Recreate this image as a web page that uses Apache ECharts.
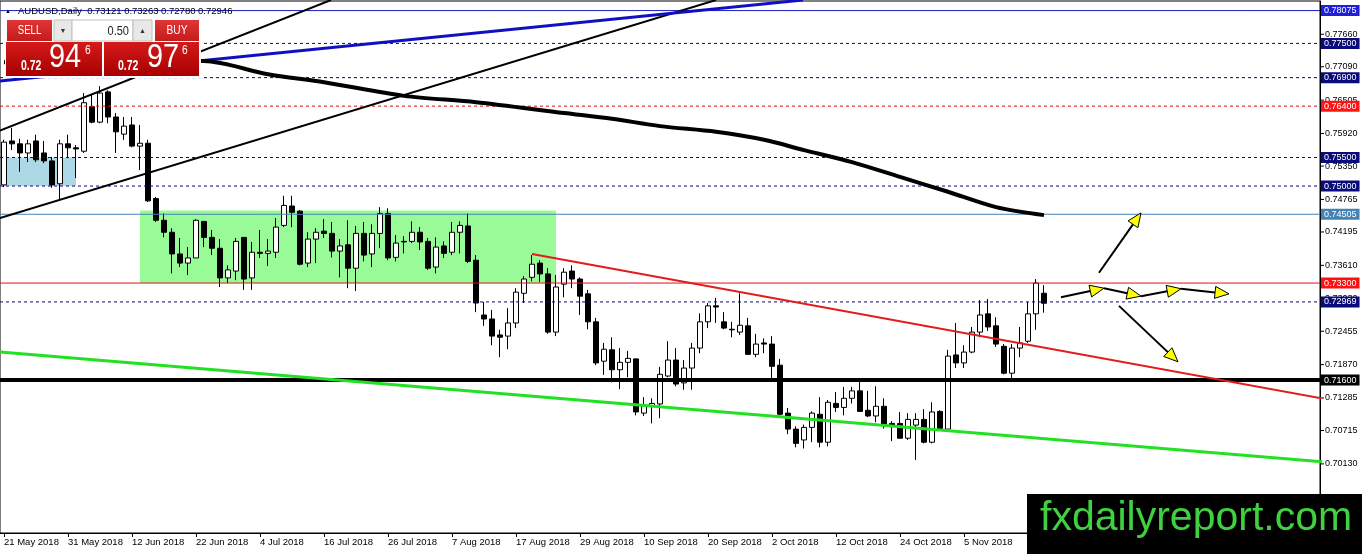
<!DOCTYPE html>
<html><head><meta charset="utf-8">
<script src="https://cdn.jsdelivr.net/npm/echarts@6/dist/echarts.min.js"></script>
<style>html,body{margin:0;padding:0;background:#fff}#c{width:1362px;height:554px}</style>
</head><body><div id="c"></div><script>
// ---------- data ----------
const tickLabels = ['21 May 2018','31 May 2018','12 Jun 2018','22 Jun 2018','4 Jul 2018','16 Jul 2018','26 Jul 2018','7 Aug 2018','17 Aug 2018','29 Aug 2018','10 Sep 2018','20 Sep 2018','2 Oct 2018','12 Oct 2018','24 Oct 2018','5 Nov 2018'];
const slotCount = 165;
// [open, close, low, high]
const candles = [
[0.7502,0.7577,0.7498,0.7581],[0.7579,0.7574,0.7563,0.7602],[0.7574,0.7558,0.7525,0.7583],[0.7558,0.7574,0.7542,0.7581],
[0.7579,0.7546,0.7542,0.7590],[0.7558,0.7544,0.7540,0.7579],[0.7544,0.7502,0.7497,0.7551],[0.7504,0.7574,0.7476,0.7581],
[0.7574,0.7567,0.7549,0.7590],[0.7567,0.7565,0.7514,0.7572],[0.7561,0.7646,0.7558,0.7663],[0.7639,0.7612,0.7610,0.7660],
[0.7612,0.7663,0.7610,0.7675],[0.7665,0.7621,0.7610,0.7668],[0.7621,0.7595,0.7558,0.7628],[0.7591,0.7605,0.7581,0.7621],
[0.7607,0.7570,0.7568,0.7621],[0.7570,0.7575,0.7528,0.7607],[0.7575,0.7474,0.7472,0.7581],[0.7478,0.7440,0.7437,0.7481],
[0.7440,0.7419,0.7410,0.7452],[0.7419,0.7381,0.7347,0.7426],[0.7381,0.7365,0.7358,0.7409],[0.7365,0.7374,0.7344,0.7393],
[0.7374,0.7440,0.7374,0.7442],[0.7438,0.7410,0.7393,0.7438],[0.7410,0.7391,0.7379,0.7423],[0.7391,0.7339,0.7323,0.7407],
[0.7339,0.7353,0.7330,0.7361],[0.7351,0.7403,0.7335,0.7409],[0.7410,0.7337,0.7318,0.7410],[0.7339,0.7384,0.7318,0.7402],
[0.7384,0.7382,0.7374,0.7423],[0.7382,0.7386,0.7360,0.7407],[0.7384,0.7428,0.7374,0.7444],[0.7431,0.7466,0.7428,0.7483],
[0.7465,0.7454,0.7428,0.7483],[0.7456,0.7363,0.7361,0.7458],[0.7365,0.7407,0.7358,0.7419],[0.7407,0.7419,0.7365,0.7426],
[0.7421,0.7417,0.7409,0.7442],[0.7417,0.7386,0.7375,0.7437],[0.7386,0.7395,0.7340,0.7407],[0.7397,0.7356,0.7321,0.7440],
[0.7356,0.7417,0.7316,0.7430],[0.7417,0.7379,0.7368,0.7437],[0.7381,0.7417,0.7358,0.7433],[0.7417,0.7452,0.7391,0.7463],
[0.7452,0.7374,0.7370,0.7461],[0.7375,0.7400,0.7368,0.7414],[0.7403,0.7402,0.7382,0.7412],[0.7403,0.7419,0.7400,0.7438],
[0.7419,0.7402,0.7388,0.7428],[0.7403,0.7356,0.7353,0.7409],[0.7358,0.7393,0.7347,0.7410],[0.7395,0.7382,0.7374,0.7403],
[0.7384,0.7419,0.7379,0.7437],[0.7419,0.7431,0.7382,0.7438],[0.7430,0.7368,0.7365,0.7452],[0.7370,0.7295,0.7279,0.7379],
[0.7274,0.7267,0.7255,0.7297],[0.7267,0.7237,0.7221,0.7283],[0.7239,0.7235,0.7200,0.7248],[0.7237,0.7260,0.7214,0.7286],
[0.7260,0.7314,0.7251,0.7321],[0.7312,0.7337,0.7295,0.7342],[0.7340,0.7363,0.7333,0.7379],[0.7365,0.7346,0.7332,0.7370],
[0.7346,0.7244,0.7241,0.7356],[0.7244,0.7323,0.7237,0.7344],[0.7328,0.7349,0.7305,0.7356],[0.7351,0.7337,0.7321,0.7361],
[0.7337,0.7307,0.7274,0.7340],[0.7311,0.7262,0.7249,0.7318],[0.7262,0.7190,0.7186,0.7269],[0.7193,0.7214,0.7169,0.7225],
[0.7213,0.7178,0.7156,0.7235],[0.7178,0.7191,0.7144,0.7216],[0.7191,0.7198,0.7165,0.7211],[0.7197,0.7104,0.7098,0.7198],
[0.7102,0.7116,0.7097,0.7130],[0.7114,0.7119,0.7084,0.7128],[0.7118,0.7170,0.7093,0.7183],[0.7167,0.7195,0.7165,0.7228],
[0.7195,0.7153,0.7149,0.7216],[0.7155,0.7181,0.7143,0.7195],[0.7181,0.7216,0.7143,0.7225],[0.7216,0.7262,0.7207,0.7277],
[0.7262,0.7290,0.7251,0.7295],[0.7290,0.7288,0.7260,0.7304],[0.7262,0.7251,0.7249,0.7279],[0.7249,0.7248,0.7235,0.7262],
[0.7244,0.7256,0.7239,0.7312],[0.7255,0.7205,0.7204,0.7269],[0.7205,0.7223,0.7200,0.7241],[0.7225,0.7223,0.7207,0.7233],
[0.7223,0.7184,0.7160,0.7237],[0.7186,0.7100,0.7098,0.7197],[0.7102,0.7074,0.7065,0.7111],[0.7074,0.7049,0.7042,0.7079],
[0.7055,0.7077,0.7040,0.7082],[0.7077,0.7102,0.7051,0.7105],[0.7100,0.7051,0.7042,0.7130],[0.7051,0.7121,0.7044,0.7125],
[0.7119,0.7112,0.7104,0.7139],[0.7112,0.7128,0.7098,0.7148],[0.7128,0.7141,0.7119,0.7148],[0.7141,0.7105,0.7104,0.7162],
[0.7107,0.7097,0.7095,0.7141],[0.7097,0.7114,0.7086,0.7149],[0.7114,0.7082,0.7075,0.7128],[0.7084,0.7081,0.7053,0.7088],
[0.7084,0.7058,0.7058,0.7104],[0.7058,0.7091,0.7055,0.7102],[0.7081,0.7091,0.7020,0.7102],[0.7091,0.7051,0.7049,0.7109],
[0.7051,0.7104,0.7049,0.7121],[0.7105,0.7075,0.7072,0.7107],[0.7074,0.7202,0.7074,0.7213],[0.7204,0.7190,0.7181,0.7260],
[0.7190,0.7209,0.7181,0.7221],[0.7209,0.7244,0.7207,0.7253],[0.7244,0.7274,0.7235,0.7300],[0.7276,0.7253,0.7246,0.7302],
[0.7255,0.7223,0.7218,0.7270],[0.7219,0.7172,0.7170,0.7223],[0.7172,0.7216,0.7163,0.7223],[0.7216,0.7225,0.7200,0.7253],
[0.7228,0.7276,0.7225,0.7297],[0.7276,0.7330,0.7248,0.7337],[0.73121,0.72946,0.72780,0.73263]
];
const priceTicks = [0.77660,0.77090,0.76505,0.75920,0.75350,0.74765,0.74195,0.73610,0.73030,0.72455,0.71870,0.71285,0.70715,0.70130,0.69545];
const levelValues = [0.78075,0.77500,0.76900,0.76400,0.75500,0.75000,0.74505,0.73300,0.72969,0.71600];
const maPoints = [[0,0.7717],[12,0.7720],[25,0.7719],[33,0.7696],[40,0.7682],[50,0.7658],[59,0.7647],[70,0.7628],[76,0.7618],[82,0.7605],[89,0.7595],[95,0.7581],[100,0.7563],[106,0.7542],[112,0.7516],[118,0.7490],[124,0.7463],[130,0.7449]];
const upperChannel = [[-0.5,0.7597],[40.875,0.7826]];
const lowerChannel = [[-0.5,0.7444],[89,0.7826]];
const blueTrend = [[-0.5,0.7684],[99.875,0.7826]];
const redTrend = [[66,0.7381],[167,0.7122]];
const greenTrend = [[-0.5,0.7209],[167,0.7014]];
const blueZone = [[0,0.7550],[9,0.7500]];
const greenZone = [[17,0.7457],[69,0.7330]];
// arrows: [x1, y1, x2, y2]
const arrows = [
[136.875,0.7348,142.125,0.7453],
[132.125,0.7305,137.5,0.7321],[137.5,0.7321,142.125,0.7307],[142.125,0.7307,147.125,0.7320],[147.125,0.7320,153.125,0.7311],
[139.375,0.7290,146.75,0.7192]
];
const headerText = 'AUDUSD,Daily  0.73121 0.73263 0.72780 0.72946';

// ---------- styles ----------
const FONT = "'Liberation Sans', Arial, sans-serif";
const levelStyles = [
  {c:'#1c1cc4', bg:'#1f1fd8', w:1, t:'solid'},
  {c:'#0a0a7a', bg:'#0a0a7a', w:1, t:[3,3]},
  {c:'#0a0a7a', bg:'#0a0a7a', w:1, t:[3,3]},
  {c:'#e01010', bg:'#ff1414', w:1, t:[3,3]},
  {c:'#0a0a7a', bg:'#0a0a7a', w:1, t:[3,3]},
  {c:'#0a0a7a', bg:'#0a0a7a', w:1, t:[3,3]},
  {c:'#4682b4', bg:'#4682b4', w:1, t:'solid'},
  {c:'#e8101a', bg:'#ff1010', w:1, t:'solid'},
  {c:'#0a0a7a', bg:'#0a0a7a', w:1, t:[3,3]},
  {c:'#000000', bg:'#000000', w:4, t:'solid'}
];

const cats = [];
for (let i = 0; i < slotCount; i++) cats.push(i % 8 === 0 && i / 8 < tickLabels.length ? tickLabels[i / 8] : '');
const labelIdx = (i) => i % 8 === 0 && i / 8 < tickLabels.length;
const xMin = -0.5, xMax = slotCount - 0.5;

function trendSeries(data, color, width, z) {
  return {type:'line', xAxisIndex:1, yAxisIndex:0, data, showSymbol:false, symbol:'none', silent:true, z:z||5,
    lineStyle:{color, width}, clip:true};
}

function levelSeries(v, k) {
  const s = levelStyles[k];
  return {type:'line', xAxisIndex:1, yAxisIndex:0, data:[[xMin, v],[xMax, v]], showSymbol:false, symbol:'none', silent:true, z:4,
    lineStyle:{color:s.c, width:s.w, type:s.t},
    endLabel:{show:true, formatter:()=>v.toFixed(5), distance:1, color:'#fff', backgroundColor:s.bg,
      padding:[1,3,0,3], fontSize:9, lineHeight:10, fontFamily:FONT}};
}

function arrowItem(params, api) {
  const a = api.coord([api.value(0), api.value(1)]);
  const b = api.coord([api.value(2), api.value(3)]);
  const dx = b[0]-a[0], dy = b[1]-a[1], L = Math.hypot(dx, dy), ux = dx/L, uy = dy/L;
  const hl = 14, hw = 6;
  const bx = b[0]-ux*hl, by = b[1]-uy*hl;
  return {type:'group', children:[
    {type:'line', shape:{x1:a[0], y1:a[1], x2:bx, y2:by}, style:{stroke:'#000', lineWidth:2}},
    {type:'polygon', shape:{points:[[b[0],b[1]],[bx-uy*hw, by+ux*hw],[bx+uy*hw, by-ux*hw]]}, style:{fill:'#ffff00', stroke:'#000', lineWidth:1}}
  ]};
}

function tickItem(params, api) {
  const p = api.coord([xMax, api.value(0)]);
  return {type:'line', shape:{x1:p[0], y1:p[1], x2:p[0]+4, y2:p[1]}, style:{stroke:'#000', lineWidth:1}};
}

const redGrad = (a, b) => new echarts.graphic.LinearGradient(0,0,0,1,[{offset:0,color:a},{offset:1,color:b}]);

const chart = echarts.init(document.getElementById('c'), null, {renderer:'canvas'});
chart.setOption({
  animation:false,
  backgroundColor:'#ffffff',
  grid:{left:0, right:42, top:1, bottom:21, show:true, borderColor:'#000', borderWidth:1, backgroundColor:'#fff', outerBoundsMode:'none', containLabel:false},
  xAxis:[
    {type:'category', data:cats, boundaryGap:true,
     axisLine:{show:true, onZero:false, lineStyle:{color:'#000', width:1}},
     axisTick:{show:true, alignWithLabel:true, interval:(i)=>labelIdx(i), length:4, lineStyle:{color:'#000'}},
     axisLabel:{interval:(i)=>labelIdx(i), align:'left', margin:4, color:'#000', fontSize:9.5, fontFamily:FONT},
     splitLine:{show:false}},
    {type:'value', min:xMin, max:xMax, show:false, axisLine:{onZero:false}}
  ],
  yAxis:[{type:'value', position:'right', min:0.68919, max:0.78243,
    axisLine:{show:true, onZero:false, lineStyle:{color:'#000', width:1}},
    axisTick:{show:false},
    axisLabel:{customValues:priceTicks, formatter:(v)=>v.toFixed(5), margin:5, color:'#000', fontSize:9, fontFamily:FONT},
    splitLine:{show:false}}],
  series:[
    {type:'line', xAxisIndex:1, data:[], z:1, silent:true,
     markArea:{silent:true, data:[
       [{coord:blueZone[0], itemStyle:{color:'#add8e6'}},{coord:blueZone[1]}],
       [{coord:greenZone[0], itemStyle:{color:'#98fb98'}},{coord:greenZone[1]}]
     ]}},
    {type:'candlestick', xAxisIndex:0, yAxisIndex:0, data:candles, barWidth:5, z:3, silent:true,
     itemStyle:{color:'#ffffff', color0:'#000000', borderColor:'#000000', borderColor0:'#000000', borderColorDoji:'#000000', borderWidth:1}},
    ...levelValues.map(levelSeries),
    trendSeries(upperChannel, '#000', 2),
    trendSeries(lowerChannel, '#000', 2),
    trendSeries(blueTrend, '#1010c0', 3),
    trendSeries(redTrend, '#e41b1b', 2),
    trendSeries(greenTrend, '#22e022', 3),
    Object.assign(trendSeries(maPoints, '#000', 4, 6), {smooth:0.3}),
    {type:'custom', xAxisIndex:1, yAxisIndex:0, data:arrows, renderItem:arrowItem, z:7, silent:true, clip:false},
    {type:'custom', xAxisIndex:1, yAxisIndex:0, data:priceTicks.map(v=>[v]), encode:{y:0}, renderItem:tickItem, z:2, silent:true, clip:false}
  ],
  graphic:{elements:[
    {type:'text', x:8, y:11, z:100, style:{text:'▲', fill:'#000', font:'6px '+FONT, textAlign:'center', textVerticalAlign:'middle'}},
    {type:'text', x:18, y:11, z:100, style:{text:headerText, fill:'#000', font:'9.5px '+FONT, textAlign:'left', textVerticalAlign:'middle'}},
    {type:'rect', z:100, shape:{x:5, y:19, width:196, height:59}, style:{fill:'#ffffff'}},
    {type:'rect', z:101, shape:{x:7, y:20, width:45, height:21}, style:{fill:redGrad('#df3535','#c41c1c')}},
    {type:'text', z:102, x:29.5, y:31, scaleX:0.8, style:{text:'SELL', fill:'#fff', font:'12px '+FONT, textAlign:'center', textVerticalAlign:'middle'}},
    {type:'rect', z:101, shape:{x:54, y:20, width:18, height:21}, style:{fill:'#e8e8e8', stroke:'#c0c0c0', lineWidth:1}},
    {type:'text', z:102, x:63, y:31, style:{text:'▼', fill:'#333', font:'7px '+FONT, textAlign:'center', textVerticalAlign:'middle'}},
    {type:'rect', z:101, shape:{x:72, y:20, width:61, height:21}, style:{fill:'#ffffff', stroke:'#c0c0c0', lineWidth:1}},
    {type:'text', z:102, x:129, y:31, scaleX:0.85, style:{text:'0.50', fill:'#222', font:'13px '+FONT, textAlign:'right', textVerticalAlign:'middle'}},
    {type:'rect', z:101, shape:{x:133, y:20, width:19, height:21}, style:{fill:'#e8e8e8', stroke:'#c0c0c0', lineWidth:1}},
    {type:'text', z:102, x:142.5, y:31, style:{text:'▲', fill:'#333', font:'7px '+FONT, textAlign:'center', textVerticalAlign:'middle'}},
    {type:'rect', z:101, shape:{x:155, y:20, width:44, height:21}, style:{fill:redGrad('#df3535','#c41c1c')}},
    {type:'text', z:102, x:177, y:31, scaleX:0.85, style:{text:'BUY', fill:'#fff', font:'12px '+FONT, textAlign:'center', textVerticalAlign:'middle'}},
    {type:'rect', z:101, shape:{x:6, y:42, width:96, height:34}, style:{fill:redGrad('#d41a1a','#a80000')}},
    {type:'rect', z:101, shape:{x:104, y:42, width:95, height:34}, style:{fill:redGrad('#d41a1a','#a80000')}},
    {type:'text', z:102, x:21, y:66, scaleX:0.75, style:{text:'0.72', fill:'#fff', font:'bold 14px '+FONT, textAlign:'left', textVerticalAlign:'middle'}},
    {type:'text', z:102, x:49, y:58, scaleX:0.85, style:{text:'94', fill:'#fff', font:'34px '+FONT, textAlign:'left', textVerticalAlign:'middle'}},
    {type:'text', z:102, x:85, y:51, scaleX:0.85, style:{text:'6', fill:'#fff', font:'12px '+FONT, textAlign:'left', textVerticalAlign:'middle'}},
    {type:'text', z:102, x:118, y:66, scaleX:0.75, style:{text:'0.72', fill:'#fff', font:'bold 14px '+FONT, textAlign:'left', textVerticalAlign:'middle'}},
    {type:'text', z:102, x:147, y:58, scaleX:0.85, style:{text:'97', fill:'#fff', font:'34px '+FONT, textAlign:'left', textVerticalAlign:'middle'}},
    {type:'text', z:102, x:182, y:51, scaleX:0.85, style:{text:'6', fill:'#fff', font:'12px '+FONT, textAlign:'left', textVerticalAlign:'middle'}},
    {type:'rect', z:100, shape:{x:1027, y:494, width:335, height:60}, style:{fill:'#000'}},
    {type:'text', z:101, x:1040, y:519, style:{text:'fxdailyreport.com', fill:'#3fd13f', font:'41px '+FONT, textAlign:'left', textVerticalAlign:'middle'}}
  ]}
});
</script></body></html>
